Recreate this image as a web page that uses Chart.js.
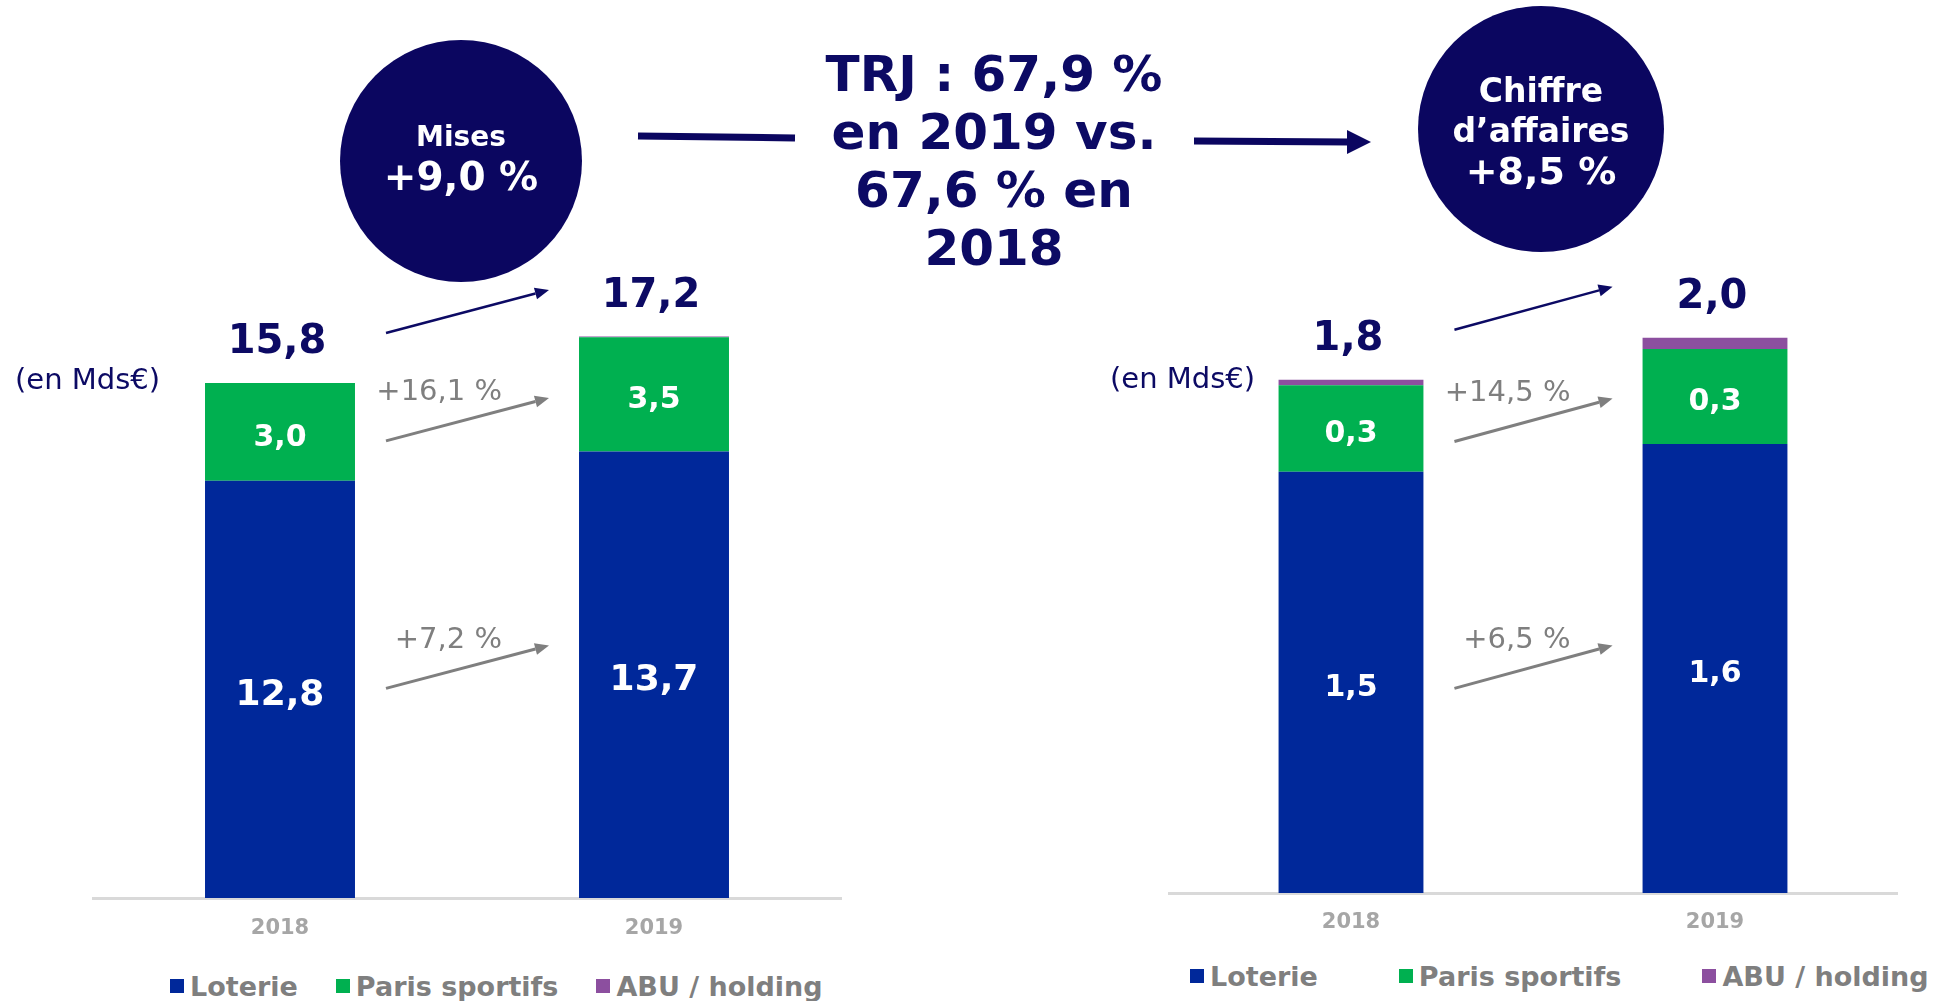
<!DOCTYPE html>
<html>
<head>
<meta charset="utf-8">
<script src="https://cdn.jsdelivr.net/npm/chart.js@4"></script>
<style>
  html, body { margin: 0; padding: 0; background: #fff; overflow: hidden; }
  body { width: 1944px; height: 1001px; position: relative; font-family: "DejaVu Sans", sans-serif; }
  canvas { position: absolute; top: 0; }
  #misesChart { left: 0; }
  #caChart { left: 1000px; }
  .legend { position: absolute; display: flex; align-items: center; height: 30px;
            font: bold 27px "DejaVu Sans"; color: #7f7f7f; white-space: nowrap; }
  .legend .item { display: flex; align-items: center; }
  .legend .box { width: 14px; height: 14px; margin-right: 6px; }
  #deco { position: absolute; left: 0; top: 0; pointer-events: none; }
</style>
</head>
<body>
<canvas id="misesChart" width="900" height="940"></canvas>
<canvas id="caChart" width="944" height="940"></canvas>
<div class="legend" id="misesLegend" style="left:170px; top:971px; gap:38px"></div>
<div class="legend" id="caLegend" style="left:1190px; top:961px; gap:81px"></div>

<svg id="deco" width="1944" height="1001" font-family="DejaVu Sans" font-weight="bold">
  <circle cx="461" cy="161" r="121" fill="#0b0660"/>
  <text x="461" y="136" fill="#fff" font-size="28" text-anchor="middle" dominant-baseline="central">Mises</text>
  <text x="461" y="176" fill="#fff" font-size="39" text-anchor="middle" dominant-baseline="central">+9,0 %</text>

  <circle cx="1541" cy="129" r="123" fill="#0b0660"/>
  <text x="1541" y="90" fill="#fff" font-size="33" text-anchor="middle" dominant-baseline="central">Chiffre</text>
  <text x="1541" y="130" fill="#fff" font-size="33" text-anchor="middle" dominant-baseline="central">d’affaires</text>
  <text x="1541" y="171" fill="#fff" font-size="38" text-anchor="middle" dominant-baseline="central">+8,5 %</text>

  <line x1="638" y1="136" x2="795" y2="138" stroke="#0b0660" stroke-width="7"/>
  <line x1="1194" y1="141" x2="1350" y2="142" stroke="#0b0660" stroke-width="7"/>
  <polygon points="1347,130 1371,142 1347,154" fill="#0b0660"/>

  <g fill="#0c0a64" font-size="50" text-anchor="middle" dominant-baseline="central">
    <text x="994" y="74">TRJ : 67,9 %</text>
    <text x="994" y="132">en 2019 vs.</text>
    <text x="994" y="190">67,6 % en</text>
    <text x="994" y="248">2018</text>
  </g>

  <g fill="#0c0a64" font-size="29" font-weight="normal" dominant-baseline="central">
    <text x="15" y="379">(en Mds€)</text>
    <text x="1110" y="378">(en Mds€)</text>
  </g>
</svg>

<script>
// categories and series
const years = ['2018', '2019']
const seriesNames = ['Loterie', 'Paris sportifs', 'ABU / holding']
const seriesColors = ['#00289a', '#00b050', '#8c4f9f']

// mises (Mds€)
const misesLoterie = [12.8, 13.7]
const misesParis = [3.0, 3.5]
const misesAbu = [0, 0.03]
const misesGrowth = ['+7,2 %', '+16,1 %', null]

// chiffre d'affaires (Mds€)
const caLoterie = [1.51, 1.61]
const caParis = [0.31, 0.34]
const caAbu = [0.02, 0.04]
const caGrowth = ['+6,5 %', '+14,5 %', null]

const NAVY = '#0c0a64'
const GREY = '#7f7f7f'

Chart.defaults.font.family = '"DejaVu Sans"'

function fmt(v) {
    return v.toFixed(1).replace('.', ',')
}

function arrow(ctx, x0, y0, x1, y1, color, width) {
    const a = Math.atan2(y1 - y0, x1 - x0)
    const len = 14, half = 6
    const bx = x1 - len * Math.cos(a), by = y1 - len * Math.sin(a)
    ctx.strokeStyle = color
    ctx.fillStyle = color
    ctx.lineWidth = width
    ctx.beginPath()
    ctx.moveTo(x0, y0)
    ctx.lineTo(bx, by)
    ctx.stroke()
    ctx.beginPath()
    ctx.moveTo(x1, y1)
    ctx.lineTo(bx + half * Math.sin(a), by - half * Math.cos(a))
    ctx.lineTo(bx - half * Math.sin(a), by + half * Math.cos(a))
    ctx.closePath()
    ctx.fill()
}

// labels inside the bars, totals above them and growth arrows between them
const overlay = {
    id: 'overlay',
    afterDatasetsDraw(chart, args, opts) {
        const ctx = chart.ctx
        const yScale = chart.scales.y
        const sets = chart.data.datasets
        const metas = sets.map((d, i) => chart.getDatasetMeta(i))
        ctx.save()
        ctx.textBaseline = 'middle'

        metas.forEach((meta, i) => {
            if (!opts.labelSizes[i]) return
            meta.data.forEach((bar, j) => {
                ctx.font = `bold ${opts.labelSizes[i]}px "DejaVu Sans"`
                ctx.fillStyle = '#fff'
                ctx.textAlign = 'center'
                ctx.fillText(fmt(sets[i].data[j]), bar.x, (bar.y + bar.base) / 2 + 6)
            })
        })

        const totals = chart.data.labels.map((l, j) => sets.reduce((s, d) => s + d.data[j], 0))
        const bars = metas[0].data
        totals.forEach((t, j) => {
            ctx.font = 'bold 40px "DejaVu Sans"'
            ctx.fillStyle = NAVY
            ctx.textAlign = 'center'
            ctx.fillText(fmt(t), bars[j].x - 3, yScale.getPixelForValue(t) - 40)
        })

        const x0 = bars[0].x + bars[0].width / 2 + 31
        const x1 = bars[1].x - bars[1].width / 2 - 30
        const ty = yScale.getPixelForValue(totals[0]) - 50
        arrow(ctx, x0, ty, x1, ty - 43, NAVY, 2.5)

        opts.growth.forEach((g, i) => {
            if (!g) return
            const b = metas[i].data[0]
            const sy = (b.y + b.base) / 2 + opts.arrowShift[i]
            arrow(ctx, x0, sy, x1, sy - 43, GREY, 3)
            ctx.font = '29px "DejaVu Sans"'
            ctx.fillStyle = GREY
            ctx.textAlign = 'right'
            ctx.fillText(g, x0 + 116, sy - 48)
        })
        ctx.restore()
    }
}

function makeChart(id, series, opt) {
    return new Chart(document.getElementById(id), {
        type: 'bar',
        data: {
            labels: years,
            datasets: series.map((d, i) => ({
                label: seriesNames[i],
                data: d,
                backgroundColor: seriesColors[i],
                borderWidth: 0,
                categoryPercentage: opt.catPct,
                barPercentage: 1
            }))
        },
        options: {
            responsive: false,
            animation: false,
            devicePixelRatio: 1,
            layout: { padding: { top: 250, left: opt.padLeft, right: opt.padRight, bottom: 0 } },
            scales: {
                x: {
                    stacked: true,
                    grid: { display: false, drawTicks: false },
                    border: { display: true, color: '#d9d9d9', width: 3 },
                    ticks: { color: '#a6a6a6', font: { size: 21, weight: 'bold' }, padding: opt.tickPad },
                    afterFit: s => { s.height = opt.xHeight }
                },
                y: { stacked: true, display: false, min: 0, max: opt.yMax }
            },
            plugins: {
                legend: { display: false },
                tooltip: { enabled: false },
                overlay: { labelSizes: opt.labelSizes, growth: opt.growth, arrowShift: opt.arrowShift }
            }
        },
        plugins: [overlay]
    })
}

function htmlLegend(chart, el) {
    const items = Chart.defaults.plugins.legend.labels.generateLabels(chart)
    items.forEach(it => {
        const item = document.createElement('div')
        item.className = 'item'
        item.innerHTML = `<span class="box" style="background:${it.fillStyle}"></span>${it.text}`
        el.appendChild(item)
    })
}

const misesChart = makeChart('misesChart', [misesLoterie, misesParis, misesAbu], {
    catPct: 0.401, padLeft: 93, padRight: 59, xHeight: 42, tickPad: 18,
    yMax: 19.88, labelSizes: [36, 30, 0], growth: misesGrowth, arrowShift: [-1, 9]
})
const caChart = makeChart('caChart', [caLoterie, caParis, caAbu], {
    catPct: 0.398, padLeft: 169, padRight: 47, xHeight: 47, tickPad: 17,
    yMax: 2.305, labelSizes: [30, 30, 0], growth: caGrowth, arrowShift: [6, 13]
})

htmlLegend(misesChart, document.getElementById('misesLegend'))
htmlLegend(caChart, document.getElementById('caLegend'))
</script>
</body>
</html>
